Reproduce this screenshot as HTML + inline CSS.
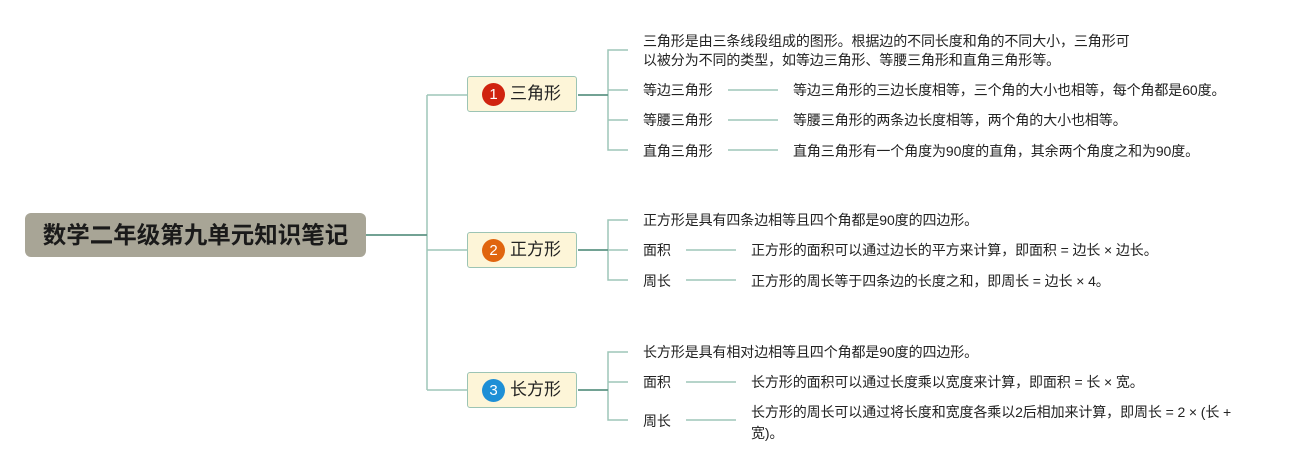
<!DOCTYPE html>
<html><head><meta charset="utf-8"><style>
body{margin:0;width:1311px;height:470px;background:#fff;position:relative;overflow:hidden;font-family:"Liberation Sans","Noto Sans CJK SC",sans-serif;}
.t{position:absolute;font-size:14px;color:#222;white-space:nowrap;line-height:18px;letter-spacing:-0.1px}
.root{position:absolute;left:25px;top:213px;width:341px;height:44px;background:#a8a596;border-radius:6px;font-weight:bold;font-size:23.5px;color:#1a1a1a;text-align:center;line-height:44px}
.node{position:absolute;left:467px;width:110px;height:36px;background:#fdf5d8;border:1px solid #9cc4b4;border-radius:3px;box-sizing:border-box;font-size:17px;color:#222;line-height:34px}
.node span.c{position:absolute;left:14px;top:6px;width:23px;height:23px;border-radius:50%;color:#fff;font-size:15px;text-align:center;line-height:23px}
.node span.l{position:absolute;left:42px}
</style></head><body>
<svg width="1311" height="470" style="position:absolute;left:0;top:0" fill="none">
<g stroke="#9ec6b8" stroke-width="1.5">
<path d="M427 95V390 M427 95H467 M427 250H467 M427 390H467"/>
<path d="M628 50H608V150H628 M608 90H628 M608 120H628"/>
<path d="M728 90H778 M728 120H778 M728 150H778"/>
<path d="M628 220H608V280H628 M608 250H628"/>
<path d="M686 250H736 M686 280H736"/>
<path d="M628 352H608V420H628 M608 382H628"/>
<path d="M686 382H736 M686 420H736"/>
</g>
<g stroke="#5f9585" stroke-width="1.8">
<path d="M366 235H427 M578 95H608 M578 250H608 M578 390H608"/>
</g>
</svg>
<div class="root">数学二年级第九单元知识笔记</div>
<div class="node" style="top:76px"><span class="c" style="background:#d0230f">1</span><span class="l">三角形</span></div>
<div class="node" style="top:232px"><span class="c" style="background:#e0650f">2</span><span class="l">正方形</span></div>
<div class="node" style="top:372px"><span class="c" style="background:#1e8fd6">3</span><span class="l">长方形</span></div>

<div class="t" style="left:643px;top:32px;line-height:19px">三角形是由三条线段组成的图形。根据边的不同长度和角的不同大小，三角形可<br>以被分为不同的类型，如等边三角形、等腰三角形和直角三角形等。</div>
<div class="t" style="left:643px;top:81px">等边三角形</div>
<div class="t" style="left:793px;top:81px">等边三角形的三边长度相等，三个角的大小也相等，每个角都是60度。</div>
<div class="t" style="left:643px;top:111px">等腰三角形</div>
<div class="t" style="left:793px;top:111px">等腰三角形的两条边长度相等，两个角的大小也相等。</div>
<div class="t" style="left:643px;top:142px">直角三角形</div>
<div class="t" style="left:793px;top:142px">直角三角形有一个角度为90度的直角，其余两个角度之和为90度。</div>

<div class="t" style="left:643px;top:211px">正方形是具有四条边相等且四个角都是90度的四边形。</div>
<div class="t" style="left:643px;top:241px">面积</div>
<div class="t" style="left:751px;top:241px">正方形的面积可以通过边长的平方来计算，即面积 = 边长 × 边长。</div>
<div class="t" style="left:643px;top:272px">周长</div>
<div class="t" style="left:751px;top:272px">正方形的周长等于四条边的长度之和，即周长 = 边长 × 4。</div>

<div class="t" style="left:643px;top:343px">长方形是具有相对边相等且四个角都是90度的四边形。</div>
<div class="t" style="left:643px;top:373px">面积</div>
<div class="t" style="left:751px;top:373px">长方形的面积可以通过长度乘以宽度来计算，即面积 = 长 × 宽。</div>
<div class="t" style="left:643px;top:412px">周长</div>
<div class="t" style="left:751px;top:402px;line-height:21px">长方形的周长可以通过将长度和宽度各乘以2后相加来计算，即周长 = 2 × (长 +<br>宽)。</div>
</body></html>
